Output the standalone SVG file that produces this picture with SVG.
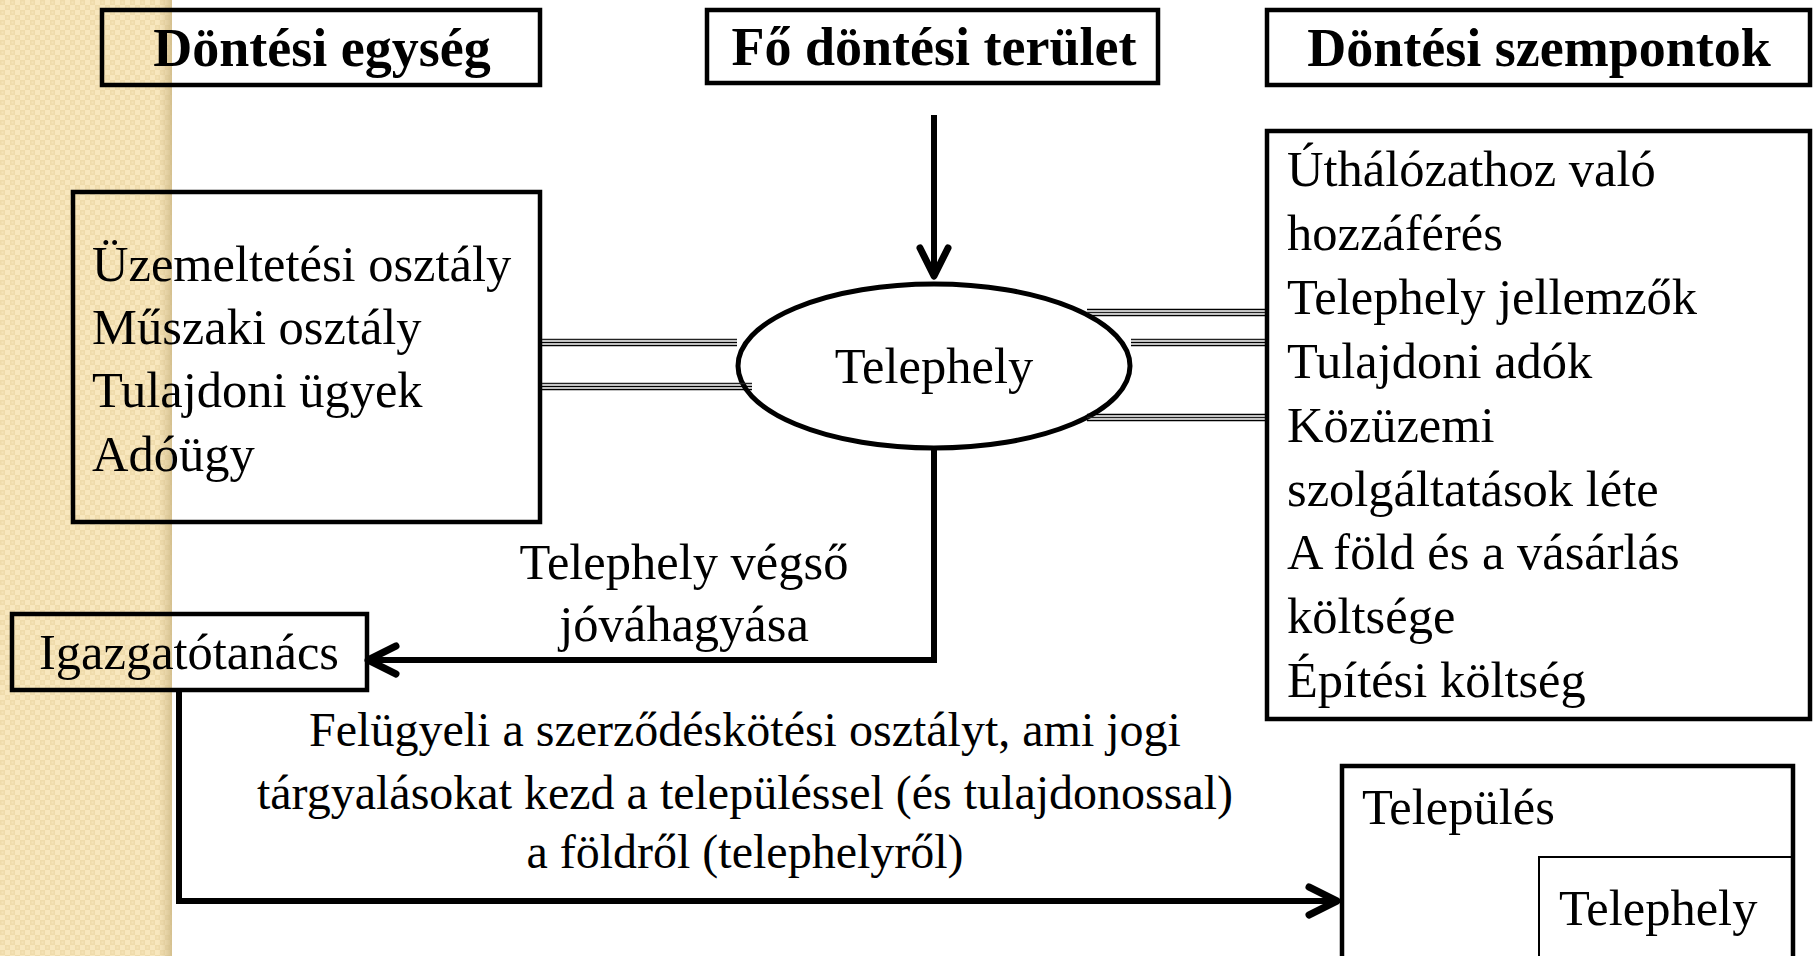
<svg xmlns="http://www.w3.org/2000/svg" width="1814" height="956" viewBox="0 0 1814 956">
<defs>
<pattern id="chk" x="0" y="0" width="10" height="10" patternUnits="userSpaceOnUse">
<rect width="10" height="10" fill="#f8e7be"/>
<rect x="0" y="0" width="5" height="5" fill="#efdbab"/>
<rect x="5" y="5" width="5" height="5" fill="#efdbab"/>
<rect x="1.5" y="1.5" width="2" height="2" fill="#f5e3b7"/>
<rect x="6.5" y="6.5" width="2" height="2" fill="#f5e3b7"/>
</pattern>
<linearGradient id="edge" x1="0" y1="0" x2="1" y2="0">
<stop offset="0" stop-color="#d8c394" stop-opacity="0"/>
<stop offset="1" stop-color="#cdb885" stop-opacity="0.8"/>
</linearGradient>
<marker id="arr" markerUnits="userSpaceOnUse" markerWidth="50" markerHeight="50" viewBox="-40 -25 50 50" refX="0" refY="0" orient="auto">
<path d="M-28,-14 L0,0 L-28,14" fill="none" stroke="#000" stroke-width="7" stroke-linecap="round" stroke-linejoin="round"/>
</marker>
</defs>
<style>
.box{fill:none;stroke:#000;stroke-width:4.5}
.thin{fill:none;stroke:#000;stroke-width:2}
.t{font-family:"Liberation Serif","Times New Roman",serif;font-size:50.5px;fill:#000}
.p{font-size:48px}
.h{font-family:"Liberation Serif","Times New Roman",serif;font-size:54px;font-weight:bold;fill:#000;text-anchor:middle}
.c{text-anchor:middle}
.con{fill:none;stroke:#000;stroke-width:6;stroke-linejoin:miter}
.tl1{stroke:#222;stroke-width:1.6}
.tl2{stroke:#000;stroke-width:1.6}
</style>
<rect x="0" y="0" width="1814" height="956" fill="#fff"/>
<rect x="0" y="0" width="172" height="956" fill="url(#chk)"/>
<rect x="158" y="0" width="14" height="956" fill="url(#edge)"/>

<g id="header-dontesi-egyseg">
<rect class="box" x="102" y="10" width="438" height="75"/>
<text class="h" x="322" y="66">Döntési egység</text>
</g>
<g id="header-fo-dontesi-terulet">
<rect class="box" x="707" y="10" width="451" height="73"/>
<text class="h" x="934" y="65">Fő döntési terület</text>
</g>
<g id="header-dontesi-szempontok">
<rect class="box" x="1267" y="10" width="543" height="75"/>
<text class="h" x="1539" y="66">Döntési szempontok</text>
</g>

<g id="node-egysegek">
<rect class="box" x="73" y="192" width="467" height="330"/>
<text class="t" x="92" y="281">Üzemeltetési osztály</text>
<text class="t" x="92" y="344">Műszaki osztály</text>
<text class="t" x="92" y="407">Tulajdoni ügyek</text>
<text class="t" x="92" y="471">Adóügy</text>
</g>

<g id="node-telephely">
<ellipse cx="934" cy="366" rx="196" ry="82" fill="none" stroke="#000" stroke-width="5"/>
<text class="t c" x="934" y="383">Telephely</text>
</g>

<g id="node-szempontok">
<rect class="box" x="1267" y="131" width="543" height="588"/>
<text class="t" x="1287" y="186">Úthálózathoz való</text>
<text class="t" x="1287" y="250">hozzáférés</text>
<text class="t" x="1287" y="314">Telephely jellemzők</text>
<text class="t" x="1287" y="378">Tulajdoni adók</text>
<text class="t" x="1287" y="442">Közüzemi</text>
<text class="t" x="1287" y="506">szolgáltatások léte</text>
<text class="t" x="1287" y="569">A föld és a vásárlás</text>
<text class="t" x="1287" y="633">költsége</text>
<text class="t" x="1287" y="697">Építési költség</text>
</g>

<g id="node-igazgatotanacs">
<rect class="box" x="12" y="614" width="355" height="76"/>
<text class="t c" x="189" y="669">Igazgatótanács</text>
</g>

<g id="node-telepules">
<rect class="box" x="1342" y="766" width="451" height="200"/>
<text class="t" x="1362" y="824">Település</text>
</g>
<g id="node-telephely-inner">
<rect class="thin" x="1539" y="857" width="254" height="110"/>
<text class="t" x="1559" y="925">Telephely</text>
</g>

<g id="connectors">
<line class="con" x1="934" y1="115" x2="934" y2="276" marker-end="url(#arr)"/>
<polyline class="con" points="934,448 934,660 368,660" marker-end="url(#arr)"/>
<polyline class="con" points="179,691 179,901 1337,901" marker-end="url(#arr)"/>
<g id="triple-left-1">
<line class="tl1" x1="542" y1="339.5" x2="737" y2="339.5"/>
<line class="tl2" x1="542" y1="342.5" x2="737" y2="342.5"/>
<line class="tl2" x1="542" y1="345.5" x2="737" y2="345.5"/>
</g>
<g id="triple-left-2">
<line class="tl1" x1="542" y1="383.5" x2="752" y2="383.5"/>
<line class="tl2" x1="542" y1="386.5" x2="752" y2="386.5"/>
<line class="tl2" x1="542" y1="389.5" x2="752" y2="389.5"/>
</g>
<g id="triple-right-1">
<line class="tl2" x1="1087" y1="309.5" x2="1265" y2="309.5"/>
<line class="tl1" x1="1087" y1="312.5" x2="1265" y2="312.5"/>
<line class="tl2" x1="1087" y1="315.5" x2="1265" y2="315.5"/>
</g>
<g id="triple-right-2">
<line class="tl1" x1="1131" y1="339.5" x2="1265" y2="339.5"/>
<line class="tl2" x1="1131" y1="342.5" x2="1265" y2="342.5"/>
<line class="tl2" x1="1131" y1="345.5" x2="1265" y2="345.5"/>
</g>
<g id="triple-right-3">
<line class="tl2" x1="1087" y1="414.5" x2="1265" y2="414.5"/>
<line class="tl1" x1="1087" y1="417.5" x2="1265" y2="417.5"/>
<line class="tl2" x1="1087" y1="420.5" x2="1265" y2="420.5"/>
</g>
<text class="t c" x="684" y="579">Telephely végső</text>
<text class="t c" x="684" y="641">jóváhagyása</text>
<text class="t p c" x="745" y="746">Felügyeli a szerződéskötési osztályt, ami jogi</text>
<text class="t p c" x="745" y="809">tárgyalásokat kezd a településsel (és tulajdonossal)</text>
<text class="t p c" x="745" y="868">a földről (telephelyről)</text>
</g>
</svg>
